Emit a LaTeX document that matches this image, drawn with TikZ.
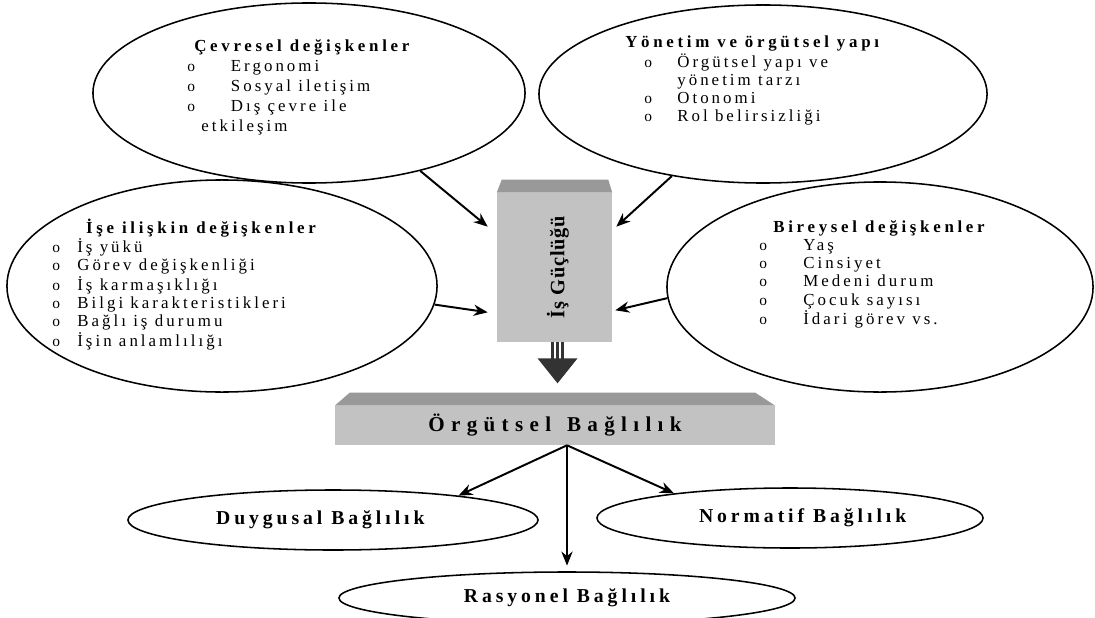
\documentclass[tikz,border=0pt]{standalone}
\usepackage{fontspec}
\setmainfont{Liberation Serif}
\newfontfamily\spfont{Liberation Serif}[LetterSpace=18]
\newfontfamily\headfont{Liberation Serif}[LetterSpace=22]
\newfontfamily\labelfont{Liberation Serif}[LetterSpace=20]
\newfontfamily\titlefont{Liberation Serif}[LetterSpace=30]
\newfontfamily\tightfont{Liberation Serif}[LetterSpace=4]
\usetikzlibrary{shapes.geometric,arrows.meta,calc}

\definecolor{facegray}{gray}{0.76}
\definecolor{topgray}{gray}{0.6}
\definecolor{arrowgray}{gray}{0.2}

\newcommand{\bul}[1]{\makebox[#1][l]{\rmfamily\fontsize{11}{13}\selectfont o}}
\newcommand{\hd}[1]{{\headfont\bfseries #1}}

\tikzset{
  bubble/.style={draw, ellipse, line width=1.1pt, inner sep=0pt},
  facebox/.style={fill=facegray, inner sep=0pt},
  pointer/.style={line width=1.4pt, -{Stealth[length=10pt,width=8pt]}},
  listtext/.style={anchor=base west, inner sep=0pt, font=\spfont\fontsize{12}{13}\selectfont},
  boldlabel/.style={font=\labelfont\bfseries\fontsize{14}{16}\selectfont},
}

\begin{document}
\begin{tikzpicture}[x=0.025cm, y=-0.025cm]
\useasboundingbox (0,0) rectangle (1095,617);

% factor ellipses
\node[bubble, minimum width=10.8cm, minimum height=4.5cm] (cevre) at (309,93) {};
\node[bubble, minimum width=11.2cm, minimum height=4.45cm] (yonetim) at (763,94) {};
\node[bubble, minimum width=10.75cm, minimum height=5.3cm] (ise) at (222,286) {};
\node[bubble, minimum width=10.65cm, minimum height=5.25cm] (birey) at (880,287) {};

\node[listtext, font=\spfont\fontsize{12}{14.2}\selectfont] (cevretext) at (187,52) {\begin{tabular}[t]{@{}l@{}}
\hspace{5pt}\hd{Çevresel değişkenler}\\
\bul{31pt}Ergonomi\\
\bul{31pt}Sosyal iletişim\\
\bul{31pt}Dış çevre ile\\
\hspace{10pt}etkileşim
\end{tabular}};

\node[listtext] (yonetimtext) at (625,48) {\begin{tabular}[t]{@{}l@{}}
\hd{Yönetim ve örgütsel yapı}\\
\hspace{13.5pt}\bul{23.5pt}Örgütsel yapı ve\\
\hspace{37pt}yönetim tarzı\\
\hspace{13.5pt}\bul{23.5pt}Otonomi\\
\hspace{13.5pt}\bul{23.5pt}Rol belirsizliği
\end{tabular}};

\node[listtext] (isetext) at (52,233) {\begin{tabular}[t]{@{}l@{}}
\hspace{24pt}\hd{İşe ilişkin değişkenler}\\
\bul{17.8pt}İş yükü\\
\bul{17.8pt}Görev değişkenliği\\
\bul{17.8pt}İş karmaşıklığı\\
\bul{17.8pt}Bilgi karakteristikleri\\
\bul{17.8pt}Bağlı iş durumu\\
\bul{17.8pt}İşin anlamlılığı
\end{tabular}};

\node[listtext] (bireytext) at (759,232) {\begin{tabular}[t]{@{}l@{}}
\hspace{10pt}\hd{Bireysel değişkenler}\\
\bul{31.3pt}Yaş\\
\bul{31.3pt}Cinsiyet\\
\bul{31.3pt}Medeni durum\\
\bul{31.3pt}Çocuk sayısı\\
\bul{31.3pt}İdari görev vs.
\end{tabular}};

% central boxes
\node[facebox, minimum width=2.875cm, minimum height=3.725cm] (gucluk) at (554.5,267.5) {};
\fill[topgray] (gucluk.north west) -- ++(5,-13) -- ($(gucluk.north east)+(-4,-13)$) -- (gucluk.north east) -- cycle;
\node[rotate=90, font=\tightfont\bfseries\fontsize{14.5}{16}\selectfont] (guclukname) at (558,267) {İş Güçlüğü};

\node[facebox, minimum width=11cm, minimum height=0.975cm, font=\titlefont\bfseries\fontsize{15}{17}\selectfont] (orgut) at (555,425.5) {Örgütsel\hspace{3pt} Bağlılık};
\fill[topgray] (orgut.north west) -- ++(15,-13) -- ($(orgut.north east)+(-20,-13)$) -- (orgut.north east) -- cycle;

% big arrow
\coordinate (shaft) at ([shift={(3,0)}]gucluk.south);
\foreach \dx in {-5,0,5}
  \draw[arrowgray, line width=2.2pt] ([shift={(\dx,0)}]shaft) -- ++(0,17);
\fill[arrowgray] ([shift={(-20,16)}]shaft) -- ([shift={(20,16)}]shaft) -- ([shift={(0,41)}]shaft) -- cycle;

% commitment types
\node[bubble, boldlabel, minimum width=10.25cm, minimum height=1.5cm] (duygu) at (333,520) {Duygusal Bağlılık\hspace*{18pt}};
\node[bubble, boldlabel, minimum width=9.65cm, minimum height=1.5cm] (norma) at (790,518) {\hspace*{18pt}Normatif Bağlılık};
\node[bubble, boldlabel, minimum width=11.4cm, minimum height=1.3cm] (rasyo) at (567,598) {Rasyonel Bağlılık};

% arrows
\draw[pointer] (cevre.-35) -- ([shift={(-9,34)}]gucluk.north west);
\draw[pointer] (yonetim.-138) -- ([shift={(4,34)}]gucluk.north east);
\draw[pointer] (ise.-5) -- ([shift={(-9,-30)}]gucluk.south west);
\draw[pointer] (birey.183) -- ([shift={(3,-32)}]gucluk.south east);

\coordinate (hub) at ([shift={(12,0)}]orgut.south);
\draw[pointer] (hub) -- (duygu.11);
\draw[pointer] (hub) -- (norma.168);
\draw[pointer, shorten >=4pt] (hub) -- (rasyo.north);
\end{tikzpicture}
\end{document}
